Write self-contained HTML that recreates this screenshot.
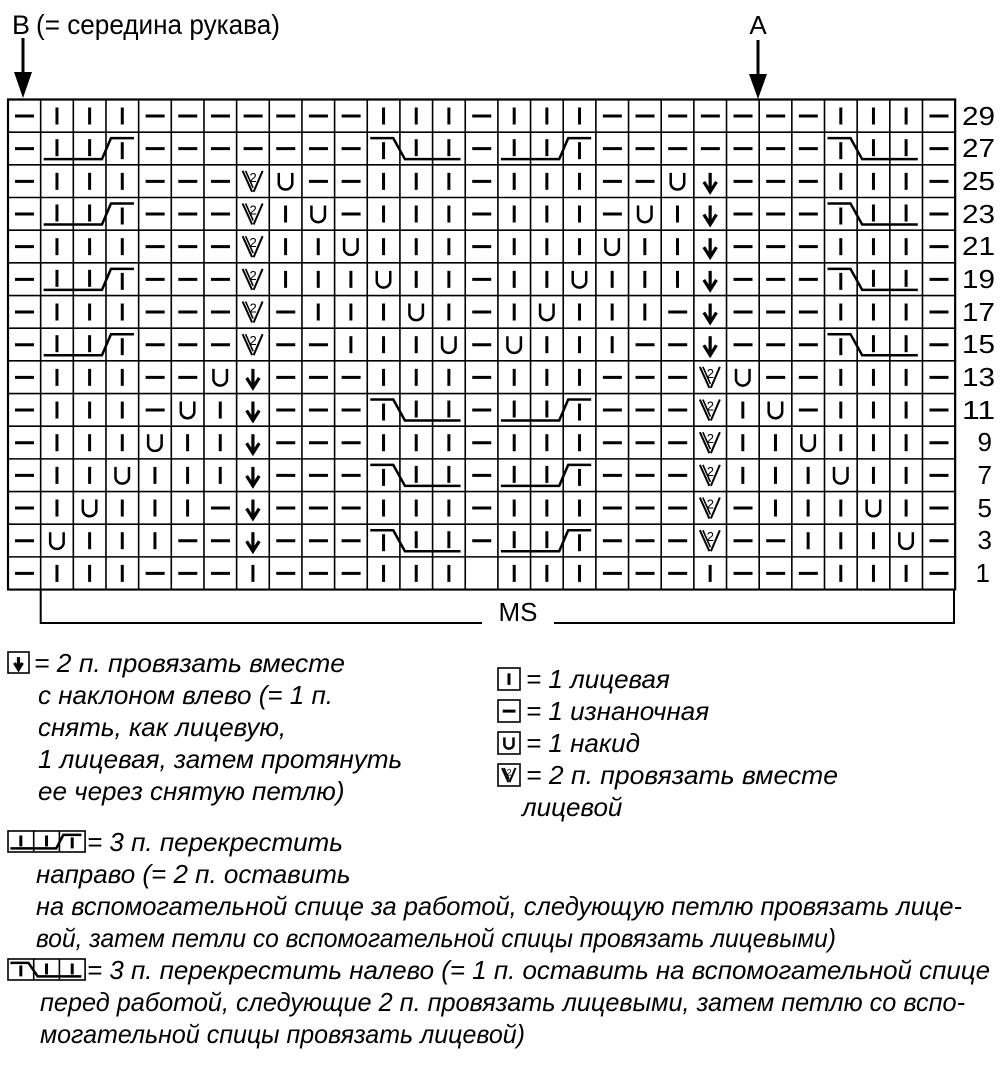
<!DOCTYPE html>
<html><head><meta charset="utf-8">
<style>
html,body{margin:0;padding:0;background:#fff;}
svg{display:block;}
text{font-family:"Liberation Sans",sans-serif;fill:#000;}
.it{font-style:italic;font-size:26px;}
.num{font-size:26px;}
</style></head>
<body>
<svg id="s" width="1000" height="1087" viewBox="0 0 1000 1087" xmlns="http://www.w3.org/2000/svg">
<rect width="1000" height="1087" fill="#fff"/>
<text x="12" y="34" font-size="27">B</text>
<text x="36" y="34" font-size="28" textLength="244" lengthAdjust="spacingAndGlyphs">(= середина рукава)</text>
<line x1="23" y1="38" x2="23" y2="76" stroke="#000" stroke-width="3"/>
<polygon points="14,72 32,72 23,98" fill="#000"/>
<text x="758" y="34" font-size="26" text-anchor="middle">A</text>
<line x1="758" y1="40" x2="758" y2="78" stroke="#000" stroke-width="3"/>
<polygon points="749,74 767,74 758,99" fill="#000"/>
<g class="num" text-anchor="end">
<text x="995" y="125" textLength="33" lengthAdjust="spacingAndGlyphs">29</text>
<text x="995" y="157" textLength="33" lengthAdjust="spacingAndGlyphs">27</text>
<text x="995" y="190" textLength="33" lengthAdjust="spacingAndGlyphs">25</text>
<text x="995" y="223" textLength="33" lengthAdjust="spacingAndGlyphs">23</text>
<text x="995" y="255" textLength="33" lengthAdjust="spacingAndGlyphs">21</text>
<text x="995" y="288" textLength="33" lengthAdjust="spacingAndGlyphs">19</text>
<text x="995" y="321" textLength="33" lengthAdjust="spacingAndGlyphs">17</text>
<text x="995" y="353" textLength="33" lengthAdjust="spacingAndGlyphs">15</text>
<text x="995" y="386" textLength="33" lengthAdjust="spacingAndGlyphs">13</text>
<text x="995" y="419" textLength="33" lengthAdjust="spacingAndGlyphs">11</text>
<text x="992" y="451">9</text>
<text x="992" y="484">7</text>
<text x="992" y="517">5</text>
<text x="992" y="549">3</text>
<text x="990" y="582">1</text>
</g>
<polyline points="40.7,590 40.7,623 482,623" fill="none" stroke="#000" stroke-width="2"/>
<polyline points="554,623 954,623 954,590" fill="none" stroke="#000" stroke-width="2"/>
<text x="518" y="621" font-size="26" text-anchor="middle">MS</text>
<g id="grid"></g>
<g id="leg"></g>
<g class="it">
<text x="34" y="672" textLength="311" lengthAdjust="spacingAndGlyphs">= 2 п. провязать вместе</text>
<text x="38" y="704">с наклоном влево (= 1 п.</text>
<text x="38" y="736">снять, как лицевую,</text>
<text x="38" y="768">1 лицевая, затем протянуть</text>
<text x="38" y="800">ее через снятую петлю)</text>

<text x="526" y="688">= 1 лицевая</text>
<text x="526" y="720">= 1 изнаночная</text>
<text x="526" y="752">= 1 накид</text>
<text x="526" y="784" textLength="312" lengthAdjust="spacingAndGlyphs">= 2 п. провязать вместе</text>
<text x="522" y="816">лицевой</text>

<text x="87" y="851">= 3 п. перекрестить</text>
<text x="36" y="883">направо (= 2 п. оставить</text>
<text x="36" y="915" textLength="926" lengthAdjust="spacingAndGlyphs">на вспомогательной спице за работой, следующую петлю провязать лице-</text>
<text x="36" y="947" textLength="800" lengthAdjust="spacingAndGlyphs">вой, затем петли со вспомогательной спицы провязать лицевыми)</text>
<text x="87" y="979" textLength="903" lengthAdjust="spacingAndGlyphs">= 3 п. перекрестить налево (= 1 п. оставить на вспомогательной спице</text>
<text x="40" y="1011" textLength="925" lengthAdjust="spacingAndGlyphs">перед работой, следующие 2 п. провязать лицевыми, затем петлю со вспо-</text>
<text x="40" y="1043" textLength="485" lengthAdjust="spacingAndGlyphs">могательной спицы провязать лицевой)</text>
</g>
</svg>
<script>
(function(){
var NS="http://www.w3.org/2000/svg";
function el(p,t,a){var e=document.createElementNS(NS,t);for(var k in a)e.setAttribute(k,a[k]);p.appendChild(e);return e;}
var g=document.getElementById("grid"), lg=document.getElementById("leg");
var rows=[
"-kkk-------kkk-kkk-------kkk-",
"-Rxx-------Lxx-Rxx-------Lxx-",
"-kkk---vu--kkk-kkk--ua---kkk-",
"-Rxx---vku-kkk-kkk-uka---Lxx-",
"-kkk---vkkukkk-kkkukka---kkk-",
"-Rxx---vkkkukk-kkukkka---Lxx-",
"-kkk---v-kkkuk-kukkk-a---kkk-",
"-Rxx---v--kkku-ukkk--a---Lxx-",
"-kkk--ua---kkk-kkk---vu--kkk-",
"-kkk-uka---Lxx-Rxx---vku-kkk-",
"-kkkukka---kkk-kkk---vkkukkk-",
"-kkukkka---Lxx-Rxx---vkkkukk-",
"-kukkk-a---kkk-kkk---v-kkkuk-",
"-ukkk--a---Lxx-Rxx---v--kkku-",
"-kkk---k---kkk kkk---k---kkk-"];
var X0=8,Y0=99.5,W=32.66,H=32.67;
function sym(p,c,x,y,w,h){
 var sx=w/32.66, sy=h/32.67;
 function L(a,b,cc,d,sw){el(p,"line",{x1:x+a*sx,y1:y+b*sy,x2:x+cc*sx,y2:y+d*sy,stroke:"#000","stroke-width":sw||3});}
 if(c=="-")L(7,16.5,26,16.5);
 else if(c=="k")L(16.3,8,16.3,25);
 else if(c=="u")el(p,"path",{d:"M"+(x+9.5*sx)+","+(y+8*sy)+" V"+(y+19*sy)+" A"+(6.8*sx)+","+(6.5*sy)+" 0 0 0 "+(x+23*sx)+","+(y+19*sy)+" V"+(y+8*sy),fill:"none",stroke:"#000","stroke-width":2.5});
 else if(c=="a"){L(16.3,8,16.3,26,3.2);el(p,"polyline",{points:(x+10*sx)+","+(y+17*sy)+" "+(x+16.3*sx)+","+(y+27*sy)+" "+(x+22.6*sx)+","+(y+17*sy),fill:"none",stroke:"#000","stroke-width":3.2});}
 else if(c=="v"){L(6,6,15.5,27,2);L(9,6,16.5,23,1.6);L(26,6,17,27,2);
  var t=el(p,"text",{x:x+16.5*sx,y:y+17*sy,"font-size":Math.round(13*sy),"text-anchor":"middle"});t.textContent="2";}
}
function cable(p,t,x,y,w,h){
 var sx=w/32.66, sy=h/32.67;
 function P(pts,sw){el(p,"polyline",{points:pts.map(function(q){return (x+q[0]*sx)+","+(y+q[1]*sy);}).join(" "),fill:"none",stroke:"#000","stroke-width":sw||3});}
 if(t=="R"){
  P([[16.3,7],[16.3,24]]);P([[16.3+32.66,7],[16.3+32.66,24]]);
  P([[3,27],[65.3-4,27],[65.3+5,6],[65.3+28,6]],2.5);
  P([[65.3+16.3,10],[65.3+16.3,27]]);
 } else {
  P([[16.3,10],[16.3,27]]);
  P([[3,6],[26,6],[32.66+5,27],[65.3+28,27]],2.5);
  P([[16.3+32.66,7],[16.3+32.66,24]]);P([[16.3+65.3,7],[16.3+65.3,24]]);
 }
}
for(var r=0;r<15;r++){
 var row=rows[r], y=Y0+r*H;
 for(var c=0;c<29;c++){
  var ch=row[c], x=X0+c*W;
  if(ch=="R"||ch=="L")cable(g,ch,x,y,W,H);
  else if(ch!="x"&&ch!=" ")sym(g,ch,x,y,W,H);
 }
}
for(var i=0;i<=15;i++)el(g,"line",{x1:X0-1,y1:Y0+i*H,x2:X0+29*W+1,y2:Y0+i*H,stroke:"#000","stroke-width":(i==0||i==15)?2.2:1.6});
for(var j=0;j<=29;j++)el(g,"line",{x1:X0+j*W,y1:Y0,x2:X0+j*W,y2:Y0+15*H,stroke:"#000","stroke-width":(j==0||j==29)?2.2:1.6});
function box(x,y,w,h,n){el(lg,"rect",{x:x,y:y,width:w*n,height:h,fill:"none",stroke:"#000","stroke-width":1.6});for(var k=1;k<n;k++)el(lg,"line",{x1:x+k*w,y1:y,x2:x+k*w,y2:y+h,stroke:"#000","stroke-width":1.6});}
box(8,652,21,21,1);sym(lg,"a",8,652,21,21);
box(498,668,22,22,1);sym(lg,"k",498,668,22,22);
box(498,700,22,22,1);sym(lg,"-",498,700,22,22);
box(498,732,22,22,1);sym(lg,"u",498,732,22,22);
box(498,764,22,22,1);sym(lg,"v",498,764,22,22);
box(8,831,25.7,21,3);cable(lg,"R",8,831,25.7,21);
box(8,959,25.7,21,3);cable(lg,"L",8,959,25.7,21);
})();
</script>
</body></html>
